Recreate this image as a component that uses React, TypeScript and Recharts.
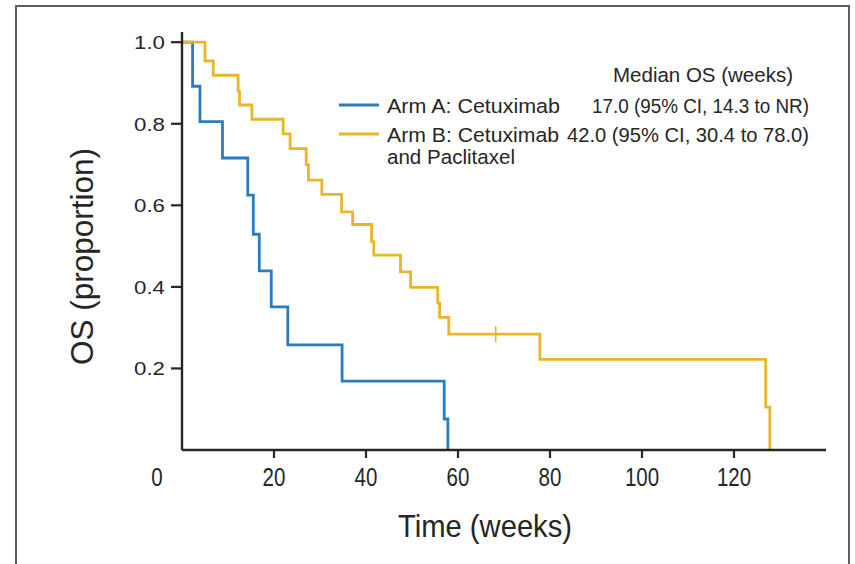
import React from 'react';
import { ComposedChart, Line, Scatter, XAxis, YAxis, Legend, Label } from 'recharts';

// Kaplan–Meier overall survival
const armA = [
  { t: 0, s: 1.0 },
  { t: 2.3, s: 0.892 },
  { t: 3.9, s: 0.805 },
  { t: 8.8, s: 0.716 },
  { t: 14.3, s: 0.625 },
  { t: 15.5, s: 0.529 },
  { t: 16.8, s: 0.439 },
  { t: 19.4, s: 0.351 },
  { t: 23.0, s: 0.258 },
  { t: 34.8, s: 0.169 },
  { t: 57.0, s: 0.076 },
  { t: 57.8, s: 0 },
];

const armB = [
  { t: 0, s: 1.0 },
  { t: 5.0, s: 0.954 },
  { t: 6.8, s: 0.919 },
  { t: 12.2, s: 0.88 },
  { t: 12.5, s: 0.846 },
  { t: 15.2, s: 0.811 },
  { t: 22.0, s: 0.775 },
  { t: 23.5, s: 0.739 },
  { t: 27.0, s: 0.699 },
  { t: 27.5, s: 0.662 },
  { t: 30.4, s: 0.627 },
  { t: 34.7, s: 0.584 },
  { t: 37.1, s: 0.553 },
  { t: 41.2, s: 0.511 },
  { t: 41.7, s: 0.478 },
  { t: 47.5, s: 0.437 },
  { t: 49.7, s: 0.399 },
  { t: 55.6, s: 0.36 },
  { t: 56.0, s: 0.325 },
  { t: 58.0, s: 0.284 },
  { t: 77.8, s: 0.222 },
  { t: 126.9, s: 0.105 },
  { t: 127.8, s: 0 },
];

const armBCensored = [{ t: 68.2, s: 0.284 }];

const xTicks = [0, 20, 40, 60, 80, 100, 120];
const yTicks = [0.2, 0.4, 0.6, 0.8, 1.0];

const legendHeader = 'Median OS (weeks)';
const armALabel = ['Arm A: Cetuximab'];
const armBLabel = ['Arm B: Cetuximab', 'and Paclitaxel'];
const armAMedian = '17.0 (95% CI, 14.3 to NR)';
const armBMedian = '42.0 (95% CI, 30.4 to 78.0)';

const BLUE = '#2b7bc0';
const YELLOW = '#e9b62a';
const INK = '#262626';
const SANS = '"Liberation Sans", Arial, sans-serif';

const X_TICK_SIZE = 8;

const XTick = (props: any) => {
  const { x, y, payload } = props;
  const axisY = y - X_TICK_SIZE;
  const isOrigin = payload.value === 0;
  return (
    <g>
      {!isOrigin && (
        <line x1={x} x2={x} y1={axisY} y2={axisY + X_TICK_SIZE} stroke={INK} strokeWidth={2.2} />
      )}
      <g transform={`translate(${isOrigin ? x - 25 : x},${axisY + 36})`}>
        <text
          transform="scale(0.82,1)"
          textAnchor="middle"
          fontFamily={SANS}
          fontSize={25}
          fill={INK}
        >
          {payload.value}
        </text>
      </g>
    </g>
  );
};

const YTick = (props: any) => {
  const { x, y, payload } = props;
  return (
    <text
      x={x}
      y={y}
      dy="0.36em"
      textAnchor="end"
      fontFamily={SANS}
      fontSize={19}
      textLength={31}
      lengthAdjust="spacingAndGlyphs"
      fill={INK}
    >
      {Number(payload.value).toFixed(1)}
    </text>
  );
};

const XTitle = (props: any) => {
  const vb = props.viewBox || { x: 0, y: 0, width: 0, height: 0 };
  return (
    <text
      x={vb.x + vb.width / 2 - 19}
      y={vb.y + 87}
      textAnchor="middle"
      fontFamily={SANS}
      fontSize={32}
      textLength={174}
      lengthAdjust="spacingAndGlyphs"
      fill={INK}
    >
      Time (weeks)
    </text>
  );
};

const YTitle = (props: any) => {
  const vb = props.viewBox || { x: 0, y: 0, width: 0, height: 0 };
  const cx = vb.x - 29;
  const cy = vb.y + vb.height / 2 + 15.5;
  return (
    <text
      x={cx}
      y={cy}
      transform={`rotate(-90,${cx},${cy})`}
      textAnchor="middle"
      fontFamily={SANS}
      fontSize={32}
      textLength={217}
      lengthAdjust="spacingAndGlyphs"
      fill={INK}
    >
      OS (proportion)
    </text>
  );
};

const CensorMark = (props: any) => {
  const { cx, cy } = props;
  return <line x1={cx} x2={cx} y1={cy - 8} y2={cy + 8} stroke={YELLOW} strokeWidth={1.6} />;
};

const legendText = {
  fontFamily: SANS,
  fontSize: 20.5,
  fill: INK,
  lengthAdjust: 'spacingAndGlyphs' as const,
};

const renderLegend = () => (
  <svg width={855} height={564} style={{ display: 'block', pointerEvents: 'none' }}>
    <text x={613} y={82} textLength={180} {...legendText}>{legendHeader}</text>
    <line x1={339} x2={379} y1={105} y2={105} stroke={BLUE} strokeWidth={3} />
    <text x={387} y={113} textLength={173} {...legendText}>{armALabel[0]}</text>
    <text x={592} y={113} textLength={217} {...legendText}>{armAMedian}</text>
    <line x1={339} x2={379} y1={134} y2={134} stroke={YELLOW} strokeWidth={3} />
    <text x={387} y={142} textLength={172} {...legendText}>{armBLabel[0]}</text>
    <text x={567} y={142} textLength={242} {...legendText}>{armBMedian}</text>
    <text x={387} y={164} textLength={128} {...legendText}>{armBLabel[1]}</text>
  </svg>
);

export default function App() {
  return (
    <div
      style={{
        position: 'absolute',
        left: 0,
        top: 0,
        width: 855,
        height: 564,
        overflow: 'hidden',
        background: '#fff',
      }}
    >
      <div
        style={{
          position: 'absolute',
          left: 15,
          top: 5,
          width: 835,
          height: 600,
          border: '2px solid #5e5e5e',
          boxSizing: 'border-box',
        }}
      />
      <div style={{ position: 'absolute', left: 0, top: 0 }}>
        <ComposedChart
          width={855}
          height={564}
          margin={{ top: 32, right: 29, bottom: 54, left: 122 }}
        >
          <XAxis
            dataKey="t"
            type="number"
            domain={[0, 140]}
            ticks={xTicks}
            allowDataOverflow
            height={60}
            axisLine={{ stroke: INK, strokeWidth: 2.4 }}
            tickLine={false}
            tickSize={X_TICK_SIZE}
            tickMargin={0}
            tick={<XTick />}
            interval={0}
          >
            <Label content={<XTitle />} />
          </XAxis>
          <YAxis
            type="number"
            domain={[0, 1.025]}
            ticks={yTicks}
            allowDataOverflow
            width={60}
            axisLine={{ stroke: INK, strokeWidth: 2.4 }}
            tickLine={{ stroke: INK, strokeWidth: 2.2 }}
            tickSize={11}
            tickMargin={6}
            tick={<YTick />}
            interval={0}
          >
            <Label content={<YTitle />} />
          </YAxis>
          <Legend
            layout="vertical"
            align="center"
            verticalAlign="middle"
            content={renderLegend}
            wrapperStyle={{ position: 'absolute', left: 0, top: 0, width: 855, height: 564, pointerEvents: 'none' }}
          />
          <Line
            data={armA}
            dataKey="s"
            name={armALabel.join(' ')}
            type="stepAfter"
            stroke={BLUE}
            strokeWidth={2.8}
            dot={false}
            activeDot={false}
            isAnimationActive={false}
          />
          <Line
            data={armB}
            dataKey="s"
            name={armBLabel.join(' ')}
            type="stepAfter"
            stroke={YELLOW}
            strokeWidth={2.8}
            dot={false}
            activeDot={false}
            isAnimationActive={false}
          />
          <Scatter
            data={armBCensored}
            dataKey="s"
            name="Censored"
            shape={<CensorMark />}
            isAnimationActive={false}
          />
        </ComposedChart>
      </div>
    </div>
  );
}
